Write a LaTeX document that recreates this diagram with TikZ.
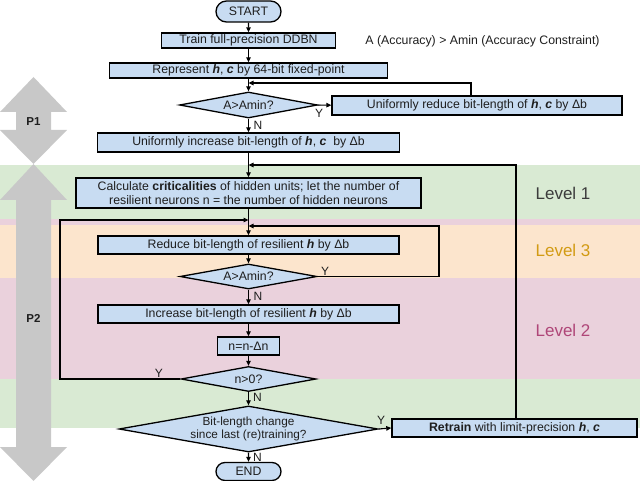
\documentclass[tikz,border=0pt]{standalone}
\usepackage{fontspec}
\setmainfont{Liberation Sans}
\usetikzlibrary{shapes.geometric,shapes.misc,arrows.meta,calc}
\definecolor{boxblue}{RGB}{200,220,242}
\definecolor{bgreen}{RGB}{217,234,211}
\definecolor{bpink}{RGB}{234,209,220}
\definecolor{borange}{RGB}{252,229,205}
\definecolor{arrgray}{RGB}{200,200,200}
\definecolor{lvone}{RGB}{60,60,60}
\definecolor{lvthree}{RGB}{210,155,20}
\definecolor{lvtwo}{RGB}{175,70,120}
\definecolor{txt}{RGB}{30,30,30}
\newcommand{\hcb}[1]{\textbf{\textit{#1}}}
\begin{document}
\begin{tikzpicture}[x=1pt,y=-1pt,
  every node/.style={font=\fontsize{12.3}{14}\selectfont, text=txt, inner sep=0pt},
  procbox/.style={draw, line width=1.4pt, fill=boxblue, rectangle, align=center},
  termbox/.style={draw, line width=1.3pt, fill=boxblue, rounded rectangle},
  decbox/.style={draw, line width=1.3pt, fill=boxblue, diamond, align=center, shape aspect=5},
  conn/.style={line width=1.1pt, -{Triangle[length=5pt,width=4.5pt]}},
  lbl/.style={font=\fontsize{12}{14}\selectfont},
  lvl/.style={font=\fontsize{17}{20}\selectfont},
  garrow/.style={fill=arrgray, draw=none}
]
\useasboundingbox (0,0) rectangle (640,481);
% background bands
\fill[bgreen] (0,165) rectangle (640,219);
\fill[bpink] (0,219) rectangle (640,225);
\fill[borange] (0,225) rectangle (640,278);
\fill[bpink] (0,278) rectangle (640,379);
\fill[bgreen] (0,379) rectangle (640,428);
% gray double arrows
\fill[garrow] (33.5,77) -- (67,112) -- (51,112) -- (51,130) -- (67,130) -- (33.5,164)
   -- (0,130) -- (16,130) -- (16,112) -- (0,112) -- cycle;
\fill[garrow] (33.5,164) -- (67,200) -- (51,200) -- (51,447) -- (67,447) -- (33.5,481)
   -- (0,447) -- (16,447) -- (16,200) -- (0,200) -- cycle;
\node[font=\bfseries\fontsize{11.5}{13}\selectfont] (p1) at (33.5,122) {P1};
\node[font=\bfseries\fontsize{11.5}{13}\selectfont] (p2) at (33.5,318) {P2};
% level labels
\node[lvl, text=lvone] (lv1) at (563,193) {Level 1};
\node[lvl, text=lvthree] (lv3) at (563,250) {Level 3};
\node[lvl, text=lvtwo] (lv2) at (563,330) {Level 2};
\node (note) at (482.5,41) {A (Accuracy) > Amin (Accuracy Constraint)};
% nodes
\node[termbox, minimum width=65pt, minimum height=21pt] (start) at (248.5,11.5) {START};
\node[procbox, minimum width=174pt, minimum height=15pt] (train) at (248.5,40.5) {Train full-precision DDBN};
\node[procbox, minimum width=278pt, minimum height=15pt] (rep) at (248.5,70.5) {Represent \hcb{h}, \hcb{c} by 64-bit fixed-point};
\node[decbox, minimum width=138pt, minimum height=26pt] (d1) at (248.5,105) {A>Amin?};
\node[procbox, minimum width=290pt, minimum height=19pt] (red1) at (477,105.5) {Uniformly reduce bit-length of \hcb{h}, \hcb{c} by Δb};
\node[procbox, minimum width=302pt, minimum height=19pt] (inc1) at (248.5,142.5) {Uniformly increase bit-length of \hcb{h}, \hcb{c}\ \ by Δb};
\node[procbox, minimum width=345pt, minimum height=30pt, font=\fontsize{12.3}{14}\selectfont] (calc) at (248.5,193) {Calculate \textbf{criticalities} of hidden units; let the number of\\resilient neurons n = the number of hidden neurons};
\node[procbox, minimum width=301pt, minimum height=18pt] (red2) at (248.5,245) {Reduce bit-length of resilient \hcb{h} by Δb};
\node[decbox, minimum width=137pt, minimum height=25pt] (d2) at (248.5,276.5) {A>Amin?};
\node[procbox, minimum width=301pt, minimum height=18pt] (inc2) at (248.5,314) {Increase bit-length of resilient \hcb{h} by Δb};
\node[procbox, minimum width=62pt, minimum height=18pt] (nbox) at (248.5,346) {n=n-Δn};
\node[decbox, minimum width=135pt, minimum height=25pt] (d3) at (248.5,379) {n>0?};
\node[decbox, minimum width=259pt, minimum height=46pt, shape aspect=5.6, font=\fontsize{11.8}{12.5}\selectfont] (d4) at (248.5,429) {Bit-length change\\since last (re)training?};
\node[procbox, minimum width=245pt, minimum height=18pt] (retrain) at (514.5,428) {\textbf{Retrain} with limit-precision \hcb{h}, \hcb{c}};
\node[termbox, minimum width=65pt, minimum height=18pt] (end) at (248.5,471.5) {END};
% junction coordinates
\coordinate (j1) at (248.5,83);
\coordinate (j2) at (248.5,165);
\coordinate (j3) at (248.5,220);
\coordinate (j4) at (248.5,226);
\coordinate (c1) at (471,83);
\coordinate (c2) at (516,165);
\coordinate (c3) at (60,379);
\coordinate (c4) at (60,220);
\coordinate (c5) at (439,276.5);
\coordinate (c6) at (439,226);
% connectors
\draw[conn] (start) -- (train);
\draw[conn] (train) -- (rep);
\draw[conn] (rep) -- (d1);
\draw[conn] (d1) -- (red1);
\draw[conn] (red1.north -| c1) -- (c1) -- (j1);
\draw[conn] (d1) -- (inc1);
\draw[conn] (inc1) -- (calc);
\draw[conn] (retrain.north -| c2) -- (c2) -- (j2);
\draw[conn] (calc) -- (red2);
\draw[conn] (red2) -- (d2);
\draw[conn] (d2.east) -- (c5) -- (c6) -- (j4);
\draw[conn] (d2) -- (inc2);
\draw[conn] (inc2) -- (nbox);
\draw[conn] (nbox) -- (d3);
\draw[conn] (d3.west) -- (c3) -- (c4) -- (j3);
\draw[conn] (d3) -- (d4);
\draw[conn] (d4) -- (end);
\draw[conn] (d4.east) -- (retrain.west);
% Y/N labels
\node[lbl] (y1) at (319,113) {Y};
\node[lbl] (n1) at (258,125) {N};
\node[lbl] (y2) at (325,271) {Y};
\node[lbl] (n2) at (258,296) {N};
\node[lbl] (y3) at (159,373) {Y};
\node[lbl] (n3) at (257.5,397) {N};
\node[lbl] (y4) at (381,420) {Y};
\node[lbl] (n4) at (257.5,457) {N};
\end{tikzpicture}
\end{document}
